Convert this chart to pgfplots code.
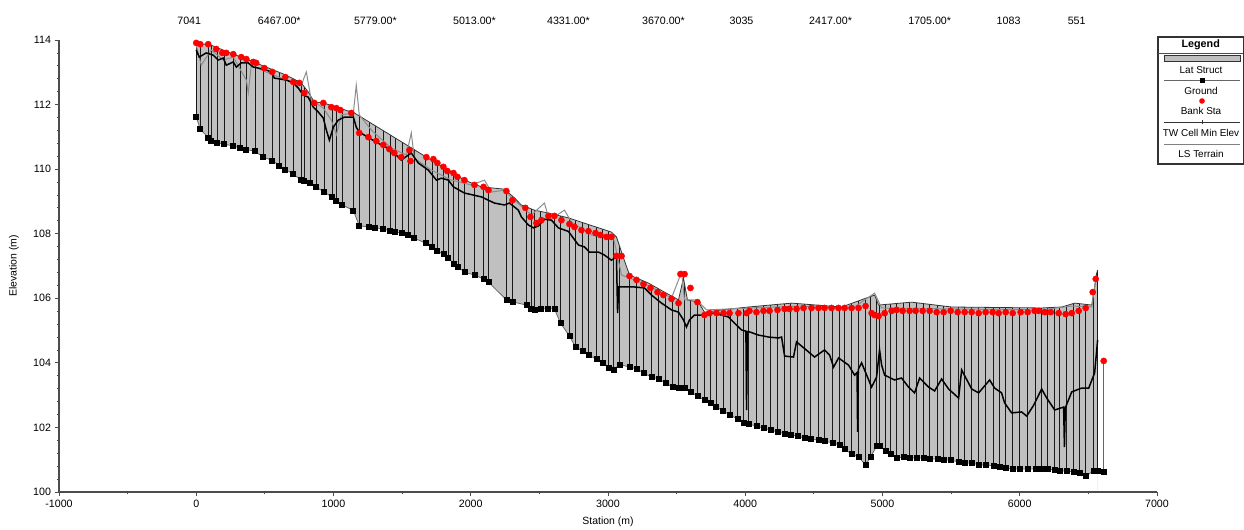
\documentclass[border=0pt]{standalone}
\usepackage{fontspec}
\setmainfont{Liberation Sans}
\usepackage{pgfplots}
\usepackage{pgfplotstable}
\pgfplotsset{compat=1.18}
\definecolor{latgray}{RGB}{192,192,192}

% Lateral structure crest
\pgfplotstableread{
x y
0 113.91
109 113.84
270 113.56
365 113.41
510 113.16
656 112.91
765 112.67
816 112.39
860 112.08
926 112.05
1042 111.89
1152 111.74
1567 110.66
1677 110.37
1837 109.97
1954 109.66
2078 109.45
2245 109.38
2318 109.11
2369 108.89
2464 108.73
2566 108.64
2712 108.49
3025 108.05
3062 107.90
3113 107.25
3157 106.72
3295 106.47
3412 106.19
3514 105.95
3550 106.63
3579 105.95
3660 105.88
3703 105.57
3827 105.64
4024 105.73
4338 105.85
4702 105.73
4943 106.10
4972 105.79
5212 105.88
5504 105.73
6160 105.70
6306 105.73
6401 105.85
6525 105.79
6561 106.78
6568 106.88
}\topline

% region above the crest, to be kept white
\pgfplotstableread{
x y
-30 113.91
0 113.91
109 113.84
270 113.56
365 113.41
510 113.16
656 112.91
765 112.67
816 112.39
860 112.08
926 112.05
1042 111.89
1152 111.74
1567 110.66
1677 110.37
1837 109.97
1954 109.66
2078 109.45
2245 109.38
2318 109.11
2369 108.89
2464 108.73
2566 108.64
2712 108.49
3025 108.05
3062 107.90
3113 107.25
3157 106.72
3295 106.47
3412 106.19
3514 105.95
3550 106.63
3579 105.95
3660 105.88
3703 105.57
3827 105.64
4024 105.73
4338 105.85
4702 105.73
4943 106.10
4972 105.79
5212 105.88
5504 105.73
6160 105.70
6306 105.73
6401 105.85
6525 105.79
6561 106.78
6568 106.88
6600 106.88
6600 115
-30 115
}\maskpoly

% Ground
\pgfplotstableread{
x y
0 111.62
29 111.24
87 110.98
109 110.87
153 110.81
204 110.77
270 110.72
321 110.65
365 110.61
430 110.55
488 110.37
554 110.27
605 110.11
649 109.99
707 109.85
765 109.66
787 109.63
831 109.57
875 109.44
933 109.29
991 109.13
1021 109.01
1064 108.89
1145 108.72
1188 108.24
1261 108.21
1305 108.18
1363 108.15
1414 108.08
1451 108.05
1502 108.02
1545 107.96
1589 107.86
1670 107.71
1720 107.58
1757 107.46
1801 107.36
1837 107.24
1874 107.08
1910 106.96
1954 106.81
2027 106.72
2093 106.60
2129 106.50
2260 105.95
2304 105.89
2406 105.79
2442 105.67
2464 105.64
2508 105.67
2559 105.68
2610 105.67
2654 105.23
2720 104.83
2763 104.49
2814 104.37
2858 104.24
2916 104.12
2960 104.00
3004 103.84
3040 103.78
3084 103.95
3157 103.87
3208 103.81
3259 103.69
3317 103.56
3368 103.50
3419 103.38
3470 103.25
3514 103.21
3558 103.21
3601 103.10
3652 102.97
3703 102.85
3747 102.76
3790 102.63
3841 102.51
3892 102.38
3944 102.26
3988 102.14
4024 102.11
4082 102.04
4133 101.98
4184 101.92
4235 101.86
4286 101.81
4330 101.77
4381 101.73
4432 101.67
4476 101.64
4534 101.61
4578 101.58
4636 101.52
4687 101.46
4724 101.33
4775 101.18
4826 101.08
4877 100.84
4913 101.08
4957 101.42
4979 101.42
5023 101.27
5059 101.18
5103 101.05
5154 101.08
5198 101.05
5249 101.05
5300 101.05
5344 101.02
5402 101.02
5446 100.99
5497 100.99
5555 100.93
5599 100.90
5650 100.90
5701 100.84
5752 100.84
5810 100.81
5854 100.77
5898 100.74
5949 100.71
6000 100.71
6058 100.71
6116 100.71
6160 100.71
6204 100.71
6255 100.68
6291 100.65
6342 100.65
6393 100.62
6437 100.59
6481 100.50
6539 100.65
6568 100.65
}\ground

% TW Cell Min Elev
\pgfplotstableread{
x y
0 113.69
22 113.47
73 113.60
124 113.53
160 113.38
197 113.44
219 113.22
270 113.32
292 113.16
328 113.29
379 113.29
416 113.16
452 113.13
510 113.07
547 113.01
569 112.82
656 112.76
707 112.67
744 112.51
780 112.29
816 112.23
853 111.92
889 111.77
926 111.58
948 111.21
970 110.90
999 111.30
1035 111.52
1079 111.61
1145 111.61
1166 111.30
1188 111.15
1261 110.96
1349 110.75
1422 110.59
1494 110.28
1567 110.50
1618 110.19
1691 109.97
1750 109.66
1786 109.72
1837 109.66
1874 109.45
1954 109.26
2078 109.14
2172 108.95
2245 108.89
2282 108.95
2347 108.73
2369 108.52
2420 108.27
2457 108.18
2493 108.24
2537 108.45
2588 108.42
2639 108.18
2712 108.07
2785 107.65
2829 107.59
2865 107.43
2931 107.43
2974 107.34
3025 107.18
3062 107.28
3070 105.54
3078 106.35
3193 106.35
3266 106.32
3317 106.10
3390 105.85
3463 105.64
3514 105.57
3550 105.33
3572 105.11
3594 105.33
3630 105.48
3682 105.48
3776 105.54
3878 105.42
3922 105.23
3973 105.02
4005 104.98
4010 102.54
4016 104.97
4031 104.96
4097 104.86
4170 104.80
4243 104.77
4265 104.80
4287 104.21
4352 104.18
4374 104.65
4461 104.34
4505 104.18
4578 104.40
4615 104.24
4644 103.87
4680 104.15
4753 103.93
4797 103.62
4815 103.70
4819 101.86
4824 103.80
4848 104.00
4921 103.25
4957 103.56
4979 104.40
4994 103.93
5016 103.62
5088 103.47
5139 103.53
5190 103.25
5234 103.07
5271 103.53
5336 103.25
5380 103.13
5431 103.50
5482 103.19
5555 102.91
5577 103.78
5650 103.19
5701 103.07
5781 103.47
5817 103.22
5868 103.07
5890 102.76
5941 102.45
6014 102.48
6051 102.35
6102 102.69
6160 103.19
6197 102.91
6255 102.54
6320 102.63
6326 101.39
6332 102.60
6379 103.10
6452 103.22
6503 103.22
6546 103.69
6568 104.71
}\twline

% LS Terrain
\pgfplotstableread{
x y
0 113.84
36 113.22
109 113.69
197 113.38
270 113.47
365 112.76
379 112.36
401 113.22
510 113.01
656 112.76
765 112.60
802 113.01
838 112.14
926 111.89
984 111.52
1021 111.06
1057 111.68
1145 111.74
1166 112.60
1188 111.68
1276 111.21
1422 110.65
1531 110.44
1567 111.12
1589 110.34
1713 109.97
1859 109.66
2005 109.51
2100 109.66
2151 109.29
2245 109.35
2318 109.04
2442 108.58
2537 108.95
2573 108.42
2683 108.73
2734 108.36
2880 107.96
2989 107.90
3040 107.87
3099 106.72
3157 106.63
3317 106.35
3463 106.01
3536 106.81
3558 105.95
3645 105.95
3718 105.64
4046 105.70
4410 105.76
4775 105.67
4943 106.16
4994 105.70
5504 105.67
6160 105.64
6379 105.76
6525 105.73
6554 106.57
}\lsterrain

% Bank stations
\pgfplotstableread{
x y
0 113.91
29 113.87
87 113.87
146 113.72
190 113.60
219 113.60
270 113.56
328 113.47
365 113.41
416 113.32
437 113.29
496 113.13
554 113.01
649 112.85
707 112.70
751 112.67
787 112.36
860 112.05
926 112.05
984 111.92
1021 111.89
1050 111.83
1130 111.74
1188 111.12
1254 110.99
1312 110.87
1363 110.75
1407 110.62
1443 110.50
1494 110.37
1553 110.59
1561 110.25
1677 110.37
1728 110.31
1757 110.19
1801 110.07
1830 109.94
1874 109.88
1903 109.76
1954 109.66
2027 109.51
2093 109.45
2129 109.35
2260 109.32
2304 109.04
2398 108.80
2435 108.52
2479 108.33
2515 108.42
2566 108.55
2610 108.55
2661 108.42
2719 108.30
2756 108.21
2807 108.11
2858 108.08
2909 108.02
2945 107.96
2989 107.90
3025 107.90
3062 107.31
3099 107.31
3157 106.69
3208 106.57
3259 106.44
3310 106.32
3361 106.19
3404 106.10
3463 105.98
3514 105.85
3528 106.75
3558 106.75
3601 106.32
3652 105.88
3703 105.48
3740 105.54
3791 105.54
3842 105.54
3886 105.54
3951 105.54
4010 105.54
4031 105.61
4082 105.57
4133 105.61
4177 105.61
4235 105.64
4287 105.67
4323 105.67
4374 105.67
4425 105.70
4483 105.70
4534 105.70
4578 105.70
4629 105.70
4680 105.70
4724 105.70
4775 105.70
4826 105.70
4877 105.76
4921 105.54
4943 105.48
4972 105.45
5016 105.54
5067 105.61
5103 105.64
5147 105.61
5198 105.61
5242 105.61
5293 105.61
5344 105.61
5395 105.57
5446 105.57
5497 105.61
5548 105.57
5599 105.57
5650 105.57
5701 105.54
5752 105.57
5803 105.57
5847 105.54
5898 105.57
5949 105.54
6007 105.57
6058 105.57
6109 105.61
6138 105.61
6182 105.57
6226 105.57
6284 105.54
6335 105.51
6379 105.54
6430 105.61
6481 105.70
6532 106.19
6554 106.60
6612 104.06
}\bank

\begin{document}
\begin{tikzpicture}
\useasboundingbox (0bp,0bp) rectangle (1244bp,530bp);
\begin{axis}[
  at={(59bp,38bp)}, anchor=south west, scale only axis,
  width=1098bp, height=452bp,
  xmin=-1000, xmax=7000, ymin=100, ymax=114,
  axis on top,
  axis x line=bottom, axis y line=left,
  axis line style={-, black!70, line width=1.3bp},
  xtick={-1000,0,1000,2000,3000,4000,5000,6000,7000},
  xticklabels={-1000,0,1000,2000,3000,4000,5000,6000,7000},
  minor x tick num=1,
  ytick={100,102,104,106,108,110,112,114},
  yticklabels={100,102,104,106,108,110,112,114},
  minor y tick num=4,
  tick align=outside,
  major tick length=4.5bp, minor tick length=2.5bp,
  tick style={black!70, line width=0.8bp},
  tick label style={font=\fontsize{10.7}{12}\selectfont},
  xlabel={Station (m)}, ylabel={Elevation (m)},
  label style={font=\fontsize{10.5}{12}\selectfont},
  xlabel style={at={(axis description cs:0.5,-0.0664)}, anchor=center},
  ylabel style={at={(axis description cs:-0.041,0.5)}, anchor=center},
]
% lateral structure area: crest down, then white below the ground
\addplot[fill=latgray, draw=none] table {\topline} \closedcycle;
\addplot[fill=white, draw=none] table {\ground} \closedcycle;
% cross sections: vertical lines rising from the ground
\addplot[draw=none, mark=none,
  error bars/.cd, y dir=plus, y fixed=15, error mark=none,
  error bar style={black!90, line width=1.25bp}] table {\ground};
% keep the area above the crest white
\addplot[fill=white, draw=none] table {\maskpoly};
% crest outline
\addplot[black!80, line width=0.8bp] table {\topline};
% ground line and squares
\addplot[black!60, line width=0.8bp, mark=square*, mark size=2.5bp,
  mark options={black, solid}] table {\ground};
\addplot[black!60, line width=0.8bp, mark=square*, mark size=2.5bp,
  mark options={black, solid}] coordinates {(6568,100.65) (6612,100.62)};
\addplot[black!60, line width=1.2bp] coordinates {(6612,100.62) (6612,104.06)};
% LS terrain and TW cell min elev
\addplot[black!45, line width=1bp] table {\lsterrain};
\addplot[black, line width=1.5bp] table {\twline};
% bank stations
\addplot[only marks, mark=*, mark size=3.1bp, mark options={red, fill=red, draw=red}]
  table {\bank};
\end{axis}
% river station labels along the top
\begin{axis}[
  at={(59bp,38bp)}, anchor=south west, scale only axis,
  width=1098bp, height=452bp,
  xmin=-1000, xmax=7000, ymin=100, ymax=114,
  axis x line*=top, axis y line*=left,
  y axis line style={draw=none}, ytick=\empty,
  x axis line style={draw=none},
  xtick={-51,605,1305,2027,2712,3404,3973,4622,5344,5919,6415},
  xticklabels={7041,6467.00*,5779.00*,5013.00*,4331.00*,3670.00*,3035,2417.00*,1705.00*,1083,551},
  major tick length=0pt,
  xticklabel style={font=\fontsize{10.7}{12}\selectfont, yshift=12bp},
]
\addplot[draw=none, forget plot] coordinates {(0,101) (6000,113)};
\end{axis}
% legend
\draw[black!80, line width=1.2bp, fill=white] (1158bp,366bp) rectangle (1243.3bp,493bp);
\node[font=\bfseries\fontsize{10.8}{12}\selectfont] at (1200.7bp,485bp) {Legend};
\draw[black!70, line width=0.8bp] (1158bp,477bp) -- (1243.3bp,477bp);
\draw[black!80, line width=1bp, fill=latgray] (1164bp,468bp) rectangle (1240bp,474bp);
\begin{scope}[every node/.style={font=\fontsize{10}{12}\selectfont}]
\node at (1201bp,460bp) {Lat Struct};
\draw[black!60, line width=1bp] (1164bp,449.5bp) -- (1240bp,449.5bp);
\fill[black] (1199.5bp,447bp) rectangle (1204.5bp,452bp);
\node at (1201bp,439.5bp) {Ground};
\fill[red] (1202bp,429bp) circle (2.8bp);
\node at (1201bp,419bp) {Bank Sta};
\draw[black!80, line width=1bp] (1164bp,407.5bp) -- (1240bp,407.5bp);
\draw[black!80, line width=0.8bp] (1202bp,405.5bp) -- (1202bp,409.5bp);
\node at (1201bp,397bp) {TW Cell Min Elev};
\draw[black!50, line width=1bp] (1164bp,385.5bp) -- (1240bp,385.5bp);
\node at (1201bp,376bp) {LS Terrain};
\end{scope}
\end{tikzpicture}
\end{document}
